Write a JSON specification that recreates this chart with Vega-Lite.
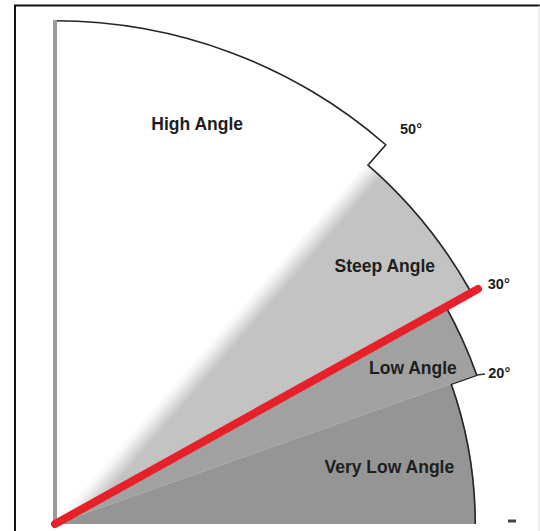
{
  "$schema": "https://vega.github.io/schema/vega-lite/v6.json",
  "width": 540,
  "height": 531,
  "padding": 0,
  "autosize": {"type": "none"},
  "background": "white",
  "config": {"view": {"stroke": null}},
  "datasets": {
    "sectors": [
      {"zone": "High Angle", "from": 49, "to": 90, "r": 504},
      {"zone": "Steep Angle", "from": 29.5, "to": 49, "r": 477},
      {"zone": "Low Angle", "from": 19.5, "to": 29.5, "r": 448},
      {"zone": "Very Low Angle", "from": 0, "to": 19.5, "r": 421}
    ],
    "steps": [
      {"at": 49, "r_in": 477, "r_out": 504},
      {"at": 29.5, "r_in": 448, "r_out": 477},
      {"at": 19.5, "r_in": 421, "r_out": 448}
    ],
    "labels": [
      {"text": "High Angle", "angle": 70.4, "r": 424},
      {"text": "Steep Angle", "angle": 37.9, "r": 418},
      {"text": "Low Angle", "angle": 23.4, "r": 390},
      {"text": "Very Low Angle", "angle": 9.5, "r": 339}
    ],
    "ticks": [
      {"text": "50°", "angle": 47.9, "r": 531},
      {"text": "30°", "angle": 28.3, "r": 504},
      {"text": "20°", "angle": 18.7, "r": 469}
    ],
    "lines": [
      {"part": "edge", "x": 0, "y": 0, "x2": 0, "y2": 504},
      {"part": "sight", "x": 0, "y": 0, "x2": 423, "y2": 235},
      {"part": "leader", "x": 422, "y": 149, "x2": 430, "y2": 150},
      {"part": "mark", "x": 453, "y": 3, "x2": 461, "y2": 3},
      {"part": "frame", "x": -41, "y": 518.5, "x2": 485, "y2": 518.5},
      {"part": "frame", "x": -40, "y": 518.5, "x2": -40, "y2": -7},
      {"part": "border", "x": 484, "y": 518.5, "x2": 484, "y2": -7}
    ]
  },
  "layer": [
    {
      "data": {"name": "sectors"},
      "mark": {"type": "arc", "stroke": null},
      "encoding": {
        "x": {"datum": 0, "type": "quantitative", "scale": {"domain": [-55, 485], "range": [0, 540], "nice": false, "zero": false}, "axis": null},
        "y": {"datum": 0, "type": "quantitative", "scale": {"domain": [-7, 524], "range": [531, 0], "nice": false, "zero": false}, "axis": null},
        "theta": {"field": "from", "type": "quantitative", "stack": null, "scale": {"domain": [90, 0], "range": [0, 1.5707963268]}},
        "theta2": {"field": "to"},
        "radius": {"field": "r", "type": "quantitative", "scale": {"type": "linear", "domain": [0, 600], "range": [0, 600], "zero": true}},
        "radius2": {"value": 0},
        "color": {"field": "zone", "type": "nominal", "scale": {"domain": ["High Angle", "Steep Angle", "Low Angle", "Very Low Angle"], "range": ["#ffffff", "#c3c3c3", "#a1a1a1", "#959595"]}, "legend": null}
      }
    },
    {
      "data": {"name": "sectors"},
      "transform": [{"filter": "datum.zone === 'Steep Angle'"}],
      "mark": {
        "type": "arc",
        "stroke": null,
        "fill": {"gradient": "linear", "x1": 0, "y1": 1, "x2": 0.04, "y2": 1.03, "stops": [{"offset": 0, "color": "rgba(255,255,255,1)"}, {"offset": 1, "color": "rgba(255,255,255,0)"}]}
      },
      "encoding": {
        "x": {"datum": 0, "type": "quantitative"},
        "y": {"datum": 0, "type": "quantitative"},
        "theta": {"field": "from", "type": "quantitative", "stack": null},
        "theta2": {"field": "to"},
        "radius": {"field": "r", "type": "quantitative"},
        "radius2": {"value": 0}
      }
    },
    {
      "data": {"name": "sectors"},
      "mark": {"type": "arc", "fill": "#262626", "stroke": null, "radius2Offset": -1.6},
      "encoding": {
        "x": {"datum": 0, "type": "quantitative"},
        "y": {"datum": 0, "type": "quantitative"},
        "theta": {"field": "from", "type": "quantitative", "stack": null},
        "theta2": {"field": "to"},
        "radius": {"field": "r", "type": "quantitative"},
        "radius2": {"field": "r"}
      }
    },
    {
      "data": {"name": "steps"},
      "mark": {"type": "arc", "fill": "#262626", "stroke": null, "theta2Offset": 0.0033},
      "encoding": {
        "x": {"datum": 0, "type": "quantitative"},
        "y": {"datum": 0, "type": "quantitative"},
        "theta": {"field": "at", "type": "quantitative", "stack": null},
        "theta2": {"field": "at"},
        "radius": {"field": "r_out", "type": "quantitative"},
        "radius2": {"field": "r_in"}
      }
    },
    {
      "data": {"name": "lines"},
      "transform": [{"filter": "datum.part === 'edge'"}],
      "mark": {"type": "rule", "color": "#9a9a9a", "strokeWidth": 4},
      "encoding": {
        "x": {"field": "x", "type": "quantitative"},
        "y": {"field": "y", "type": "quantitative"},
        "x2": {"field": "x2"},
        "y2": {"field": "y2"}
      }
    },
    {
      "data": {"name": "lines"},
      "transform": [{"filter": "datum.part === 'sight'"}],
      "mark": {"type": "rule", "color": "#e8202a", "strokeWidth": 8, "strokeCap": "round"},
      "encoding": {
        "x": {"field": "x", "type": "quantitative"},
        "y": {"field": "y", "type": "quantitative"},
        "x2": {"field": "x2"},
        "y2": {"field": "y2"}
      }
    },
    {
      "data": {"name": "lines"},
      "transform": [{"filter": "datum.part === 'leader'"}],
      "mark": {"type": "rule", "color": "#333333", "strokeWidth": 1.3},
      "encoding": {
        "x": {"field": "x", "type": "quantitative"},
        "y": {"field": "y", "type": "quantitative"},
        "x2": {"field": "x2"},
        "y2": {"field": "y2"}
      }
    },
    {
      "data": {"name": "lines"},
      "transform": [{"filter": "datum.part === 'mark'"}],
      "mark": {"type": "rule", "color": "#444444", "strokeWidth": 3},
      "encoding": {
        "x": {"field": "x", "type": "quantitative"},
        "y": {"field": "y", "type": "quantitative"},
        "x2": {"field": "x2"},
        "y2": {"field": "y2"}
      }
    },
    {
      "data": {"name": "lines"},
      "transform": [{"filter": "datum.part === 'frame'"}],
      "mark": {"type": "rule", "color": "#111111", "strokeWidth": 2},
      "encoding": {
        "x": {"field": "x", "type": "quantitative"},
        "y": {"field": "y", "type": "quantitative"},
        "x2": {"field": "x2"},
        "y2": {"field": "y2"}
      }
    },
    {
      "data": {"name": "lines"},
      "transform": [{"filter": "datum.part === 'border'"}],
      "mark": {"type": "rule", "color": "#dddddd", "strokeWidth": 1},
      "encoding": {
        "x": {"field": "x", "type": "quantitative"},
        "y": {"field": "y", "type": "quantitative"},
        "x2": {"field": "x2"},
        "y2": {"field": "y2"}
      }
    },
    {
      "data": {"name": "labels"},
      "mark": {"type": "text", "font": "Liberation Sans", "fontWeight": "bold", "fontSize": 17.5, "color": "#1e1e1e", "align": "center", "baseline": "middle"},
      "encoding": {
        "x": {"datum": 0, "type": "quantitative"},
        "y": {"datum": 0, "type": "quantitative"},
        "theta": {"field": "angle", "type": "quantitative", "stack": null},
        "radius": {"field": "r", "type": "quantitative"},
        "text": {"field": "text"}
      }
    },
    {
      "data": {"name": "ticks"},
      "mark": {"type": "text", "font": "Liberation Sans", "fontWeight": "bold", "fontSize": 14.5, "color": "#1e1e1e", "align": "center", "baseline": "middle"},
      "encoding": {
        "x": {"datum": 0, "type": "quantitative"},
        "y": {"datum": 0, "type": "quantitative"},
        "theta": {"field": "angle", "type": "quantitative", "stack": null},
        "radius": {"field": "r", "type": "quantitative"},
        "text": {"field": "text"}
      }
    }
  ]
}
